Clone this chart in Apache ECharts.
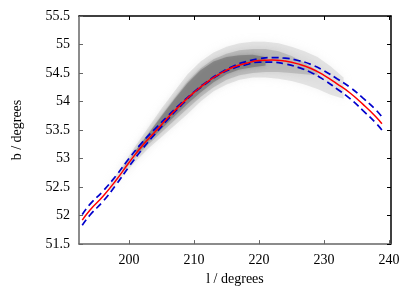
<!DOCTYPE html>
<html>
<head>
<meta charset="utf-8">
<script src="https://cdn.jsdelivr.net/npm/echarts@6/dist/echarts.min.js"></script>
<style>html,body{margin:0;padding:0;background:#fff}#c{width:415px;height:291px}</style>
</head>
<body>
<div id="c"></div>
<script>
// Fitted curve (red) and its uncertainty envelope (blue dashed)
const lVals     = [192.8, 194, 196, 198, 200, 202, 204, 206, 208, 210, 212, 214, 216, 218, 220, 222, 224, 226, 228, 230, 232, 234, 236, 238, 238.9];
const redB      = [51.92, 52.10, 52.34, 52.62, 52.93, 53.22, 53.47, 53.72, 53.95, 54.16, 54.34, 54.49, 54.60, 54.67, 54.72, 54.73, 54.71, 54.66, 54.58, 54.46, 54.31, 54.15, 53.95, 53.73, 53.61];
const blueUpper = [52.02, 52.20, 52.43, 52.70, 53.00, 53.28, 53.52, 53.75, 53.97, 54.17, 54.35, 54.50, 54.62, 54.70, 54.75, 54.77, 54.76, 54.72, 54.65, 54.54, 54.40, 54.25, 54.06, 53.85, 53.73];
const blueLower = [51.83, 52.01, 52.25, 52.54, 52.86, 53.16, 53.43, 53.69, 53.93, 54.15, 54.33, 54.48, 54.58, 54.645, 54.69, 54.69, 54.66, 54.60, 54.51, 54.38, 54.22, 54.05, 53.84, 53.62, 53.50];

// Point cloud extents: sparse outer envelope, medium layer and dense core
const cloudL  = [197, 199, 201, 203, 205, 207, 209, 211, 213, 215, 217, 219, 221, 223, 225, 227, 229, 231, 233];
const cloudLo = [52.42, 52.70, 52.95, 53.18, 53.38, 53.58, 53.78, 54.00, 54.18, 54.30, 54.38, 54.42, 54.42, 54.40, 54.36, 54.30, 54.22, 54.12, 54.05];
const cloudHi = [52.55, 52.88, 53.22, 53.55, 53.88, 54.18, 54.48, 54.70, 54.86, 54.96, 55.02, 55.05, 55.05, 55.02, 54.96, 54.88, 54.78, 54.62, 54.42];
const midL    = [199, 201, 203, 205, 207, 209, 211, 213, 215, 217, 219, 221, 223, 225, 227, 229];
const midLo   = [52.76, 53.02, 53.25, 53.46, 53.67, 53.88, 54.08, 54.25, 54.38, 54.46, 54.50, 54.52, 54.52, 54.50, 54.48, 54.46];
const midHi   = [52.84, 53.14, 53.45, 53.76, 54.06, 54.35, 54.58, 54.74, 54.84, 54.90, 54.92, 54.92, 54.88, 54.80, 54.68, 54.54];
const coreL   = [201, 203, 205, 207, 209, 211, 213, 215, 217, 219, 221];
const coreLo  = [53.06, 53.30, 53.52, 53.74, 53.96, 54.16, 54.34, 54.48, 54.56, 54.60, 54.63];
const coreHi  = [53.14, 53.44, 53.74, 54.04, 54.32, 54.55, 54.70, 54.78, 54.81, 54.82, 54.78];

const xTicks = [200, 210, 220, 230, 240];

function band(ls, lo, hi, color, blur) {
  return function (params, api) {
    const pts = [];
    for (let i = 0; i < ls.length; i++) pts.push(api.coord([ls[i], hi[i]]));
    for (let i = ls.length - 1; i >= 0; i--) pts.push(api.coord([ls[i], lo[i]]));
    return {
      type: 'polygon',
      shape: { points: pts },
      style: { fill: color, shadowBlur: blur, shadowColor: color }
    };
  };
}

const font = 'Liberation Serif';
const chart = echarts.init(document.getElementById('c'), null, { renderer: 'canvas' });
const xRange = { min: 192.3, max: 240.3 };
chart.setOption({
  animation: false,
  backgroundColor: '#fff',
  grid: { left: 79, right: 24, top: 16, bottom: 42 },
  xAxis: [
    {
      type: 'value', min: xRange.min, max: xRange.max, position: 'bottom',
      name: 'l / degrees', nameLocation: 'middle', nameGap: 24,
      nameTextStyle: { fontFamily: font, fontSize: 14, color: '#000' },
      axisLine: { show: true, onZero: false, lineStyle: { color: '#666', width: 1.5 } },
      axisTick: { show: true, inside: true, length: 4, customValues: xTicks, lineStyle: { color: '#666' } },
      axisLabel: { customValues: xTicks, margin: 9, fontFamily: font, fontSize: 14, color: '#000' },
      splitLine: { show: false }
    },
    {
      type: 'value', min: xRange.min, max: xRange.max, position: 'top',
      axisLine: { show: true, onZero: false, lineStyle: { color: '#000', width: 1.5 } },
      axisTick: { show: true, inside: true, length: 4, customValues: xTicks, lineStyle: { color: '#000' } },
      axisLabel: { show: false },
      splitLine: { show: false }
    }
  ],
  yAxis: [
    {
      type: 'value', min: 51.5, max: 55.5, interval: 0.5, position: 'left',
      name: 'b / degrees', nameLocation: 'middle', nameGap: 55, nameRotate: 90,
      nameTextStyle: { fontFamily: font, fontSize: 14, color: '#000' },
      axisLine: { show: true, onZero: false, lineStyle: { color: '#666', width: 1.5 } },
      axisTick: { show: true, inside: true, length: 4, lineStyle: { color: '#666' } },
      axisLabel: { margin: 9, fontFamily: font, fontSize: 14, color: '#000' },
      splitLine: { show: false }
    },
    {
      type: 'value', min: 51.5, max: 55.5, interval: 0.5, position: 'right',
      axisLine: { show: true, onZero: false, lineStyle: { color: '#000', width: 1.5 } },
      axisTick: { show: true, inside: true, length: 4, lineStyle: { color: '#000' } },
      axisLabel: { show: false },
      splitLine: { show: false }
    }
  ],
  series: [
    { type: 'custom', renderItem: band(cloudL, cloudLo, cloudHi, 'rgba(200,200,200,0.45)', 8),
      data: [[cloudL[0], cloudLo[0]]], clip: true, silent: true, z: 1 },
    { type: 'custom', renderItem: band(midL, midLo, midHi, 'rgba(160,160,160,0.5)', 7),
      data: [[midL[0], midLo[0]]], clip: true, silent: true, z: 2 },
    { type: 'custom', renderItem: band(coreL, coreLo, coreHi, 'rgba(115,115,115,0.65)', 4),
      data: [[coreL[0], coreLo[0]]], clip: true, silent: true, z: 2 },
    { type: 'line', data: lVals.map((l, i) => [l, blueUpper[i]]), smooth: true, showSymbol: false,
      lineStyle: { color: '#0000cc', width: 1.7, type: [7, 4] }, z: 3 },
    { type: 'line', data: lVals.map((l, i) => [l, blueLower[i]]), smooth: true, showSymbol: false,
      lineStyle: { color: '#0000cc', width: 1.7, type: [7, 4] }, z: 3 },
    { type: 'line', data: lVals.map((l, i) => [l, redB[i]]), smooth: true, showSymbol: false,
      lineStyle: { color: '#ff0000', width: 1.5 }, z: 4 }
  ]
});
</script>
</body>
</html>
